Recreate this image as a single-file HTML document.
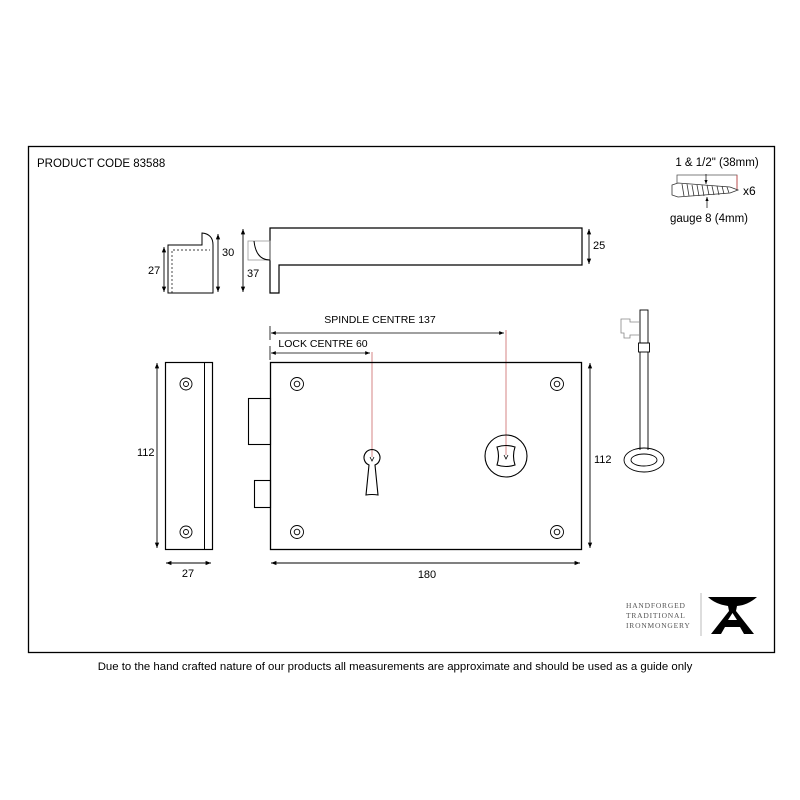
<!DOCTYPE html>
<html><head><meta charset="utf-8"><style>
html,body{margin:0;padding:0;background:#fff;}
svg{display:block;font-family:"Liberation Sans",sans-serif;}
</style></head><body>
<svg width="800" height="800" viewBox="0 0 800 800" xmlns="http://www.w3.org/2000/svg">
<defs>
<marker id="a" viewBox="0 0 10 10" refX="10" refY="5" markerWidth="6" markerHeight="6" orient="auto-start-reverse"><path d="M0,1 L10,5 L0,9 z" fill="#000"/></marker>
</defs>
<rect x="28.5" y="146.5" width="746" height="506" fill="none" stroke="#000" stroke-width="1.3"/>
<text x="37" y="167" font-size="11.5">PRODUCT CODE 83588</text>

<!-- screw -->
<text x="717" y="166" font-size="11.5" text-anchor="middle">1 &amp; 1/2" (38mm)</text>
<path d="M677,183 V175 H737 V190" fill="none" stroke="#555" stroke-width="0.8"/>
<line x1="737" y1="175" x2="737" y2="190" stroke="#c44" stroke-width="0.8"/>
<path d="M672,185 L678,183 L730,187 L738,190 L730,193 L678,197 L672,195 Z" fill="none" stroke="#333" stroke-width="0.8"/>
<path d="M682,184 l2,12 M687,184 l2,12 M692,185 l2,11 M697,185 l2,11 M702,185 l2,11 M707,185 l2,10 M712,186 l2,9 M717,186 l2,9 M722,186 l2,8 M727,187 l2,6" stroke="#333" stroke-width="0.8"/>
<line x1="706" y1="174" x2="706" y2="184" stroke="#000" stroke-width="0.7" marker-end="url(#a)"/>
<line x1="707" y1="208" x2="707" y2="197" stroke="#000" stroke-width="0.7" marker-end="url(#a)"/>
<text x="743" y="195" font-size="12">x6</text>
<text x="709" y="222" font-size="11.5" text-anchor="middle">gauge 8 (4mm)</text>

<!-- small top view -->
<path d="M168,293 V245 H202 V233 Q213,234 213,245 V293 Z" fill="none" stroke="#000" stroke-width="1"/>
<path d="M172,293 V250 H210" fill="none" stroke="#000" stroke-width="0.7" stroke-dasharray="2,2"/>
<line x1="164" y1="247" x2="164" y2="292" stroke="#000" stroke-width="0.9" marker-start="url(#a)" marker-end="url(#a)"/>
<text x="148" y="274" font-size="11">27</text>
<line x1="218" y1="234" x2="218" y2="292" stroke="#000" stroke-width="0.9" marker-start="url(#a)" marker-end="url(#a)"/>
<text x="222" y="256" font-size="11">30</text>

<!-- handle -->
<path d="M270,293 V228 H582 V265 H279 V293 Z" fill="none" stroke="#000" stroke-width="1.2"/>
<rect x="248" y="241" width="22" height="19" fill="none" stroke="#999" stroke-width="0.8"/>
<path d="M254,241 Q256,260 270,260" fill="none" stroke="#000" stroke-width="1"/>
<line x1="243" y1="229" x2="243" y2="292" stroke="#000" stroke-width="0.9" marker-start="url(#a)" marker-end="url(#a)"/>
<text x="247" y="277" font-size="11">37</text>
<line x1="589" y1="229" x2="589" y2="264" stroke="#000" stroke-width="0.9" marker-start="url(#a)" marker-end="url(#a)"/>
<text x="593" y="249" font-size="11">25</text>

<!-- centre dims -->
<text x="380" y="323" font-size="10.5" text-anchor="middle">SPINDLE CENTRE 137</text>
<line x1="270" y1="326" x2="270" y2="340" stroke="#000" stroke-width="0.8"/>
<line x1="271" y1="333" x2="504" y2="333" stroke="#000" stroke-width="0.8" marker-start="url(#a)" marker-end="url(#a)"/>
<text x="323" y="347" font-size="10.5" text-anchor="middle">LOCK CENTRE 60</text>
<line x1="270" y1="346" x2="270" y2="360" stroke="#000" stroke-width="0.8"/>
<line x1="271" y1="353" x2="370" y2="353" stroke="#000" stroke-width="0.8" marker-start="url(#a)" marker-end="url(#a)"/>
<line x1="372" y1="352" x2="372" y2="457" stroke="#c66" stroke-width="0.8"/>
<line x1="506" y1="330" x2="506" y2="455" stroke="#c66" stroke-width="0.8"/>

<!-- side view -->
<rect x="165.5" y="362.5" width="47" height="187" fill="none" stroke="#000" stroke-width="1.2"/>
<line x1="204.5" y1="362" x2="204.5" y2="549" stroke="#000" stroke-width="1"/>
<g fill="none" stroke="#000" stroke-width="0.9">
<circle cx="186" cy="384" r="6"/><circle cx="186" cy="384" r="2.5"/>
<circle cx="186" cy="532" r="6"/><circle cx="186" cy="532" r="2.5"/>
</g>
<line x1="157" y1="363" x2="157" y2="548" stroke="#000" stroke-width="0.9" marker-start="url(#a)" marker-end="url(#a)"/>
<text x="137" y="456" font-size="11">112</text>
<line x1="166" y1="563" x2="211" y2="563" stroke="#000" stroke-width="0.9" marker-start="url(#a)" marker-end="url(#a)"/>
<text x="188" y="577" font-size="11" text-anchor="middle">27</text>

<!-- lock body -->
<rect x="270.5" y="362.5" width="311" height="187" fill="none" stroke="#000" stroke-width="1.3"/>
<rect x="248.5" y="398.5" width="22" height="46" fill="none" stroke="#000" stroke-width="1.1"/>
<rect x="254.5" y="480.5" width="16" height="27" fill="none" stroke="#000" stroke-width="1.1"/>
<g fill="none" stroke="#000" stroke-width="0.9">
<circle cx="297" cy="384" r="6.5"/><circle cx="297" cy="384" r="2.8"/>
<circle cx="557" cy="384" r="6.5"/><circle cx="557" cy="384" r="2.8"/>
<circle cx="297" cy="532" r="6.5"/><circle cx="297" cy="532" r="2.8"/>
<circle cx="557" cy="532" r="6.5"/><circle cx="557" cy="532" r="2.8"/>
<path d="M369,465 A8,8 0 1 1 375,465 L378,495 Q372,494 366,495 Z" stroke-width="1.1"/>
<circle cx="506" cy="456" r="21" stroke-width="1.1"/>
<path d="M497,447 Q506,444 515,447 Q512,456 515,465 Q506,468 497,465 Q500,456 497,447 Z" stroke-width="1.1"/>
<path d="M370,457 l2,4 l2,-4 M504,455 l2,4 l2,-4" stroke-width="0.8"/>
</g>
<line x1="590" y1="363" x2="590" y2="548" stroke="#000" stroke-width="0.9" marker-start="url(#a)" marker-end="url(#a)"/>
<text x="594" y="463" font-size="11">112</text>
<line x1="271" y1="563" x2="580" y2="563" stroke="#000" stroke-width="0.9" marker-start="url(#a)" marker-end="url(#a)"/>
<text x="427" y="578" font-size="11" text-anchor="middle">180</text>

<!-- key -->
<g fill="none" stroke="#000" stroke-width="0.9">
<rect x="640" y="310" width="8" height="33"/>
<rect x="638.5" y="343" width="11" height="9"/>
<path d="M640,352 V450 M648,352 V450"/>
<ellipse cx="644" cy="460" rx="20" ry="12"/>
<ellipse cx="644" cy="460" rx="13" ry="6"/>
</g>
<path d="M640,322 H630 V319 H621 V333 H624 V338 H630 V335 H640" fill="none" stroke="#888" stroke-width="0.8"/>

<!-- logo -->
<g font-family="Liberation Serif,serif" font-size="7.5" fill="#555" letter-spacing="0.8">
<text x="626" y="608">HANDFORGED</text>
<text x="626" y="618">TRADITIONAL</text>
<text x="626" y="628">IRONMONGERY</text>
</g>
<line x1="701" y1="593" x2="701" y2="636" stroke="#aaa" stroke-width="0.8"/>
<path d="M708,597 H757 Q748,605 737,606 L736,611 L754,634 H744 L740,627 H725 L721,634 H711 L729,611 L728,606 Q715,604 708,597 Z M728,620 H737 L732.5,613 Z" fill="#000" fill-rule="evenodd"/>

<text x="395" y="670" font-size="11.4" text-anchor="middle">Due to the hand crafted nature of our products all measurements are approximate and should be used as a guide only</text>
</svg>
</body></html>
